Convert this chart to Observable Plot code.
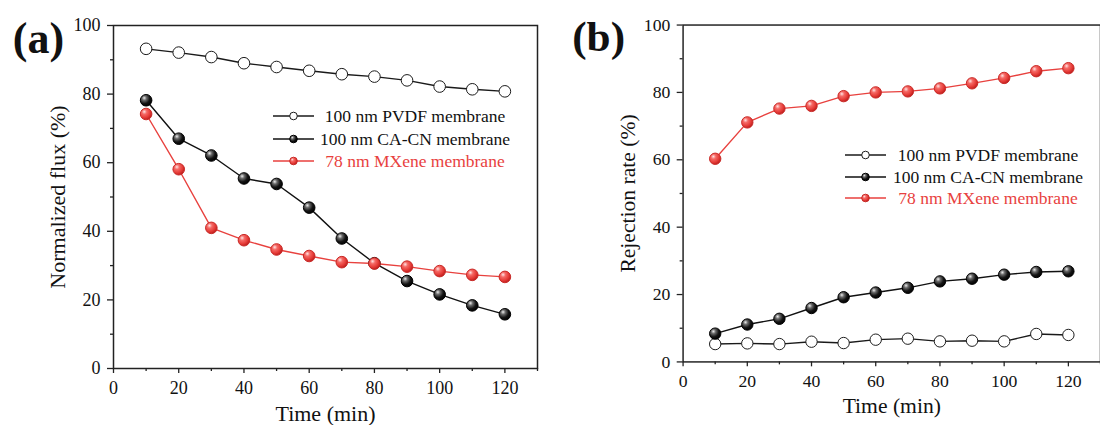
<!DOCTYPE html>
<html>
<head>
<meta charset="utf-8">
<script src="https://cdn.jsdelivr.net/npm/d3@7"></script>
<script src="https://cdn.jsdelivr.net/npm/@observablehq/plot@0.6"></script>
<style>
html, body { margin: 0; padding: 0; background: #fff; overflow: hidden; }
#wrap { position: relative; width: 1100px; height: 425px; overflow: hidden; font-family: "Liberation Serif", "Times New Roman", serif; }
#pa { position: absolute; left: 0; top: 0; }
#pb { position: absolute; left: 550px; top: 0; }
.sw { position: absolute; width: 44px; height: 22px; overflow: visible; }
.lt { position: absolute; width: 260px; height: 22px; line-height: 22px; text-align: center; font-size: 17.5px; white-space: nowrap; }
#defs { position: absolute; width: 0; height: 0; }
</style>
</head>
<body>
<svg id="defs" width="0" height="0">
  <defs>
    <radialGradient id="ballK" cx="0.36" cy="0.34" r="0.7" fx="0.34" fy="0.3">
      <stop offset="0" stop-color="#eeeeee"/>
      <stop offset="0.28" stop-color="#6a6a6a"/>
      <stop offset="0.65" stop-color="#141414"/>
      <stop offset="1" stop-color="#000"/>
    </radialGradient>
    <radialGradient id="ballR" cx="0.36" cy="0.34" r="0.7" fx="0.34" fy="0.3">
      <stop offset="0" stop-color="#ffe4e4"/>
      <stop offset="0.3" stop-color="#f56a66"/>
      <stop offset="0.7" stop-color="#e53a36"/>
      <stop offset="1" stop-color="#b81c1c"/>
    </radialGradient>
  </defs>
</svg>
<div id="wrap"><div id="pa"></div><div id="pb"></div></div>
<script>
// ---------------- data ----------------
const time = [10, 20, 30, 40, 50, 60, 70, 80, 90, 100, 110, 120];

const fluxPVDF  = [93.2, 92.1, 90.8, 89.0, 87.9, 86.8, 85.8, 85.1, 84.0, 82.2, 81.4, 80.8];
const fluxCACN  = [78.2, 67.0, 62.1, 55.4, 53.8, 46.9, 37.9, 30.7, 25.5, 21.6, 18.4, 15.8];
const fluxMXene = [74.2, 58.1, 41.0, 37.4, 34.7, 32.8, 31.0, 30.6, 29.7, 28.4, 27.3, 26.7];

const rejPVDF  = [5.3, 5.5, 5.3, 6.0, 5.6, 6.6, 6.9, 6.1, 6.3, 6.1, 8.3, 8.0];
const rejCACN  = [8.4, 11.1, 12.8, 16.0, 19.2, 20.6, 22.0, 23.9, 24.7, 25.9, 26.7, 26.9];
const rejMXene = [60.3, 71.1, 75.2, 76.0, 78.9, 80.0, 80.3, 81.2, 82.7, 84.3, 86.3, 87.2];

const seriesNames = ["100 nm PVDF membrane", "100 nm CA-CN membrane", "78 nm MXene membrane"];

const xTicks = [0, 20, 40, 60, 80, 100, 120];
const xMinor = [10, 30, 50, 70, 90, 110, 130];
const yTicks = [0, 20, 40, 60, 80, 100];
const yMinor = [10, 30, 50, 70, 90];

const panelLabels = ["(a)", "(b)"];
const yTitles = ["Normalized flux (%)", "Rejection rate (%)"];
const xTitle = "Time (min)";

// ---------------- styles ----------------
const RED = "#e8413e";
const styles = [
  {line: "#1a1a1a", fill: "#ffffff", stroke: "#1a1a1a", text: "#111"},
  {line: "#111111", fill: "url(#ballK)", stroke: "#000000", text: "#111"},
  {line: RED, fill: "url(#ballR)", stroke: "#c92a27", text: RED}
];
const FONT = "'Liberation Serif', 'Times New Roman', serif";

function rows(values, name) {
  return time.map((t, i) => ({time: t, value: values[i], series: name}));
}

function panel({series, label, yTitle, width, marginLeft, marginRight, labelDx, labelDy, titleDx}) {
  const marks = [
    Plot.frame({stroke: "#222", strokeWidth: 1.5}),
    Plot.axisX({ticks: xMinor, tickSize: 3, tickFormat: () => "", strokeWidth: 1.3, stroke: "#222", label: null}),
    Plot.axisX({ticks: xTicks, tickSize: 5, tickPadding: 8, fontSize: 18, strokeWidth: 1.3, stroke: "#222", fill: "#111", label: null}),
    Plot.axisY({ticks: yMinor, tickSize: 3, tickFormat: () => "", strokeWidth: 1.3, stroke: "#222", label: null}),
    Plot.axisY({ticks: yTicks, tickSize: 6, tickPadding: 7, fontSize: 18, strokeWidth: 1.3, stroke: "#222", fill: "#111", label: null}),
    Plot.text([xTitle], {frameAnchor: "bottom", text: d => d, dy: 52, fontSize: 22, lineAnchor: "bottom", fill: "#111"}),
    Plot.text([yTitle], {frameAnchor: "left", text: d => d, rotate: -90, dx: titleDx, fontSize: 22, lineAnchor: "bottom", textAnchor: "middle", fill: "#111"}),
    Plot.text([label], {frameAnchor: "top-left", text: d => d, dx: labelDx, dy: labelDy, fontSize: 44, fontWeight: "bold", textAnchor: "middle", lineAnchor: "middle", fill: "#111"})
  ];
  series.forEach((vals, i) => {
    marks.push(Plot.line(rows(vals, seriesNames[i]), {x: "time", y: "value", stroke: styles[i].line, strokeWidth: 1.4}));
  });
  series.forEach((vals, i) => {
    marks.push(Plot.dot(rows(vals, seriesNames[i]), {x: "time", y: "value", r: 5.8, fill: styles[i].fill, stroke: styles[i].stroke, strokeWidth: 1}));
  });
  return Plot.plot({
    width, height: 425,
    marginLeft, marginRight, marginTop: 25, marginBottom: 57,
    x: {domain: [0, 130], label: null},
    y: {domain: [0, 100], label: null},
    style: {fontFamily: FONT, fontSize: "18px", color: "#111", background: "transparent", overflow: "visible"},
    marks
  });
}

const A = panel({series: [fluxPVDF, fluxCACN, fluxMXene], label: panelLabels[0], yTitle: yTitles[0],
  width: 550, marginLeft: 113, marginRight: 13, labelDx: -75, labelDy: 13, titleDx: -49});
const B = panel({series: [rejPVDF, rejCACN, rejMXene], label: panelLabels[1], yTitle: yTitles[1],
  width: 560, marginLeft: 135, marginRight: 0, labelDx: -86, labelDy: 12, titleDx: -48.5});
document.getElementById("pa").appendChild(A);
document.getElementById("pb").appendChild(B);

// ---------------- legends (HTML overlay) ----------------
function legend(lineLeft, textCenter, centers) {
  const wrap = document.getElementById("wrap");
  seriesNames.forEach((name, i) => {
    const cy = centers[i];
    const sw = document.createElementNS("http://www.w3.org/2000/svg", "svg");
    sw.setAttribute("class", "sw");
    sw.setAttribute("width", 44); sw.setAttribute("height", 22);
    sw.style.left = lineLeft + "px"; sw.style.top = (cy - 11) + "px";
    sw.innerHTML = `<line x1="0" y1="11" x2="41" y2="11" stroke="${styles[i].line}" stroke-width="1.6"/>` +
      `<circle cx="20.5" cy="11" r="3.8" fill="${styles[i].fill}" stroke="${styles[i].stroke}" stroke-width="1"/>`;
    wrap.appendChild(sw);
    const t = document.createElement("div");
    t.className = "lt";
    t.textContent = name;
    t.style.color = styles[i].text;
    t.style.left = (textCenter - 130) + "px";
    t.style.top = (cy - 11) + "px";
    wrap.appendChild(t);
  });
}
legend(273, 415, [116, 138.5, 161]);
legend(845, 988, [155, 176.7, 198.3]);
</script>
</body>
</html>
